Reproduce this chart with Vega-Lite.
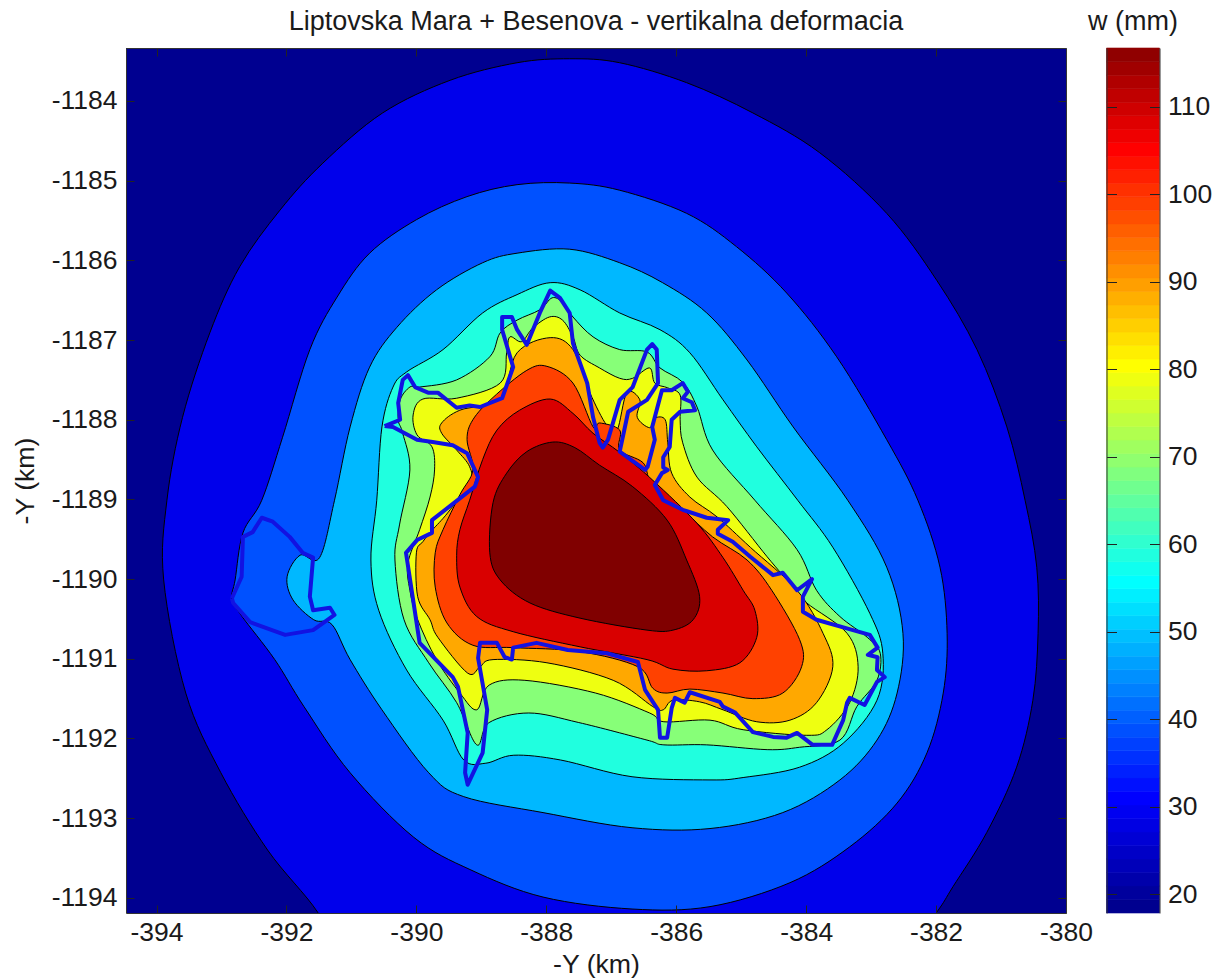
{"$schema":"https://vega.github.io/schema/vega-lite/v6.json","background":"white","padding":{"left":12,"top":7,"right":2,"bottom":2},"config":{"font":"Liberation Sans","view":{"stroke":null},"title":{"font":"Liberation Sans","fontSize":27,"fontWeight":"normal","color":"#1a1a1a"}},"spacing":-5.5,"datasets":{"contours":[
{"level":18,"x":-395,"y":-1183},{"level":18,"x":-379,"y":-1183},{"level":18,"x":-379,"y":-1195},{"level":18,"x":-395,"y":-1195},
{"level":28,"x":-387.64,"y":-1183.47},{"level":28,"x":-386.87,"y":-1183.52},{"level":28,"x":-385.84,"y":-1183.77},{"level":28,"x":-384.82,"y":-1184.15},{"level":28,"x":-383.79,"y":-1184.65},{"level":28,"x":-382.76,"y":-1185.41},{"level":28,"x":-381.99,"y":-1186.25},{"level":28,"x":-381.37,"y":-1187.12},{"level":28,"x":-380.91,"y":-1188.09},{"level":28,"x":-380.63,"y":-1189.01},{"level":28,"x":-380.45,"y":-1189.85},{"level":28,"x":-380.43,"y":-1190.68},{"level":28,"x":-380.51,"y":-1191.52},{"level":28,"x":-380.76,"y":-1192.36},{"level":28,"x":-381.22,"y":-1193.18},{"level":28,"x":-381.74,"y":-1193.86},{"level":28,"x":-381.99,"y":-1194.18},{"level":28,"x":-382.56,"y":-1194.78},{"level":28,"x":-387.18,"y":-1195.4},{"level":28,"x":-391.18,"y":-1194.78},{"level":28,"x":-391.52,"y":-1194.18},{"level":28,"x":-392.29,"y":-1193.4},{"level":28,"x":-393.01,"y":-1192.43},{"level":28,"x":-393.55,"y":-1191.43},{"level":28,"x":-393.89,"y":-1190.01},{"level":28,"x":-393.84,"y":-1189.01},{"level":28,"x":-393.6,"y":-1187.97},{"level":28,"x":-393.18,"y":-1186.91},{"level":28,"x":-392.72,"y":-1186.08},{"level":28,"x":-392.1,"y":-1185.37},{"level":28,"x":-391.44,"y":-1184.78},{"level":28,"x":-390.52,"y":-1184.15},{"level":28,"x":-389.48,"y":-1183.74},{"level":28,"x":-388.45,"y":-1183.52},
{"level":38,"x":-387.64,"y":-1185.03},{"level":38,"x":-386.87,"y":-1185.12},{"level":38,"x":-385.84,"y":-1185.41},{"level":38,"x":-385.07,"y":-1185.83},{"level":38,"x":-384.3,"y":-1186.41},{"level":38,"x":-383.53,"y":-1187.21},{"level":38,"x":-382.76,"y":-1188.25},{"level":38,"x":-382.28,"y":-1189.01},{"level":38,"x":-381.94,"y":-1189.85},{"level":38,"x":-381.83,"y":-1190.68},{"level":38,"x":-381.89,"y":-1191.43},{"level":38,"x":-382.14,"y":-1192.18},{"level":38,"x":-382.6,"y":-1192.81},{"level":38,"x":-383.33,"y":-1193.36},{"level":38,"x":-384.25,"y":-1193.81},{"level":38,"x":-385.48,"y":-1194.11},{"level":38,"x":-386.68,"y":-1194.14},{"level":38,"x":-388.05,"y":-1193.99},{"level":38,"x":-389.16,"y":-1193.65},{"level":38,"x":-390.04,"y":-1193.24},{"level":38,"x":-391.02,"y":-1192.43},{"level":38,"x":-391.73,"y":-1191.6},{"level":38,"x":-392.18,"y":-1191.01},{"level":38,"x":-392.7,"y":-1190.45},{"level":38,"x":-392.84,"y":-1190.24},{"level":38,"x":-392.79,"y":-1190.01},{"level":38,"x":-392.67,"y":-1189.42},{"level":38,"x":-392.38,"y":-1189.01},{"level":38,"x":-392.06,"y":-1188.22},{"level":38,"x":-391.64,"y":-1187.12},{"level":38,"x":-391.22,"y":-1186.46},{"level":38,"x":-390.72,"y":-1185.91},{"level":38,"x":-390.0,"y":-1185.49},{"level":38,"x":-389.22,"y":-1185.2},{"level":38,"x":-388.45,"y":-1185.05},
{"level":48,"x":-387.64,"y":-1185.86},{"level":48,"x":-386.87,"y":-1186.03},{"level":48,"x":-386.21,"y":-1186.28},{"level":48,"x":-385.53,"y":-1186.66},{"level":48,"x":-384.91,"y":-1187.25},{"level":48,"x":-384.2,"y":-1188.09},{"level":48,"x":-383.36,"y":-1189.01},{"level":48,"x":-382.76,"y":-1189.85},{"level":48,"x":-382.51,"y":-1190.68},{"level":48,"x":-382.6,"y":-1191.43},{"level":48,"x":-382.91,"y":-1192.02},{"level":48,"x":-383.48,"y":-1192.52},{"level":48,"x":-384.36,"y":-1192.93},{"level":48,"x":-385.48,"y":-1193.13},{"level":48,"x":-386.68,"y":-1193.12},{"level":48,"x":-388.05,"y":-1192.93},{"level":48,"x":-389.27,"y":-1192.73},{"level":48,"x":-389.81,"y":-1192.43},{"level":48,"x":-390.53,"y":-1191.64},{"level":48,"x":-391.02,"y":-1191.01},{"level":48,"x":-391.3,"y":-1190.57},{"level":48,"x":-391.58,"y":-1190.51},{"level":48,"x":-391.9,"y":-1190.26},{"level":48,"x":-391.99,"y":-1189.97},{"level":48,"x":-391.79,"y":-1189.7},{"level":48,"x":-391.49,"y":-1189.73},{"level":48,"x":-391.26,"y":-1189.01},{"level":48,"x":-391.02,"y":-1188.09},{"level":48,"x":-390.72,"y":-1187.34},{"level":48,"x":-390.3,"y":-1186.84},{"level":48,"x":-389.69,"y":-1186.37},{"level":48,"x":-388.98,"y":-1186.03},{"level":48,"x":-388.45,"y":-1185.91},
{"level":58,"x":-387.94,"y":-1186.28},{"level":58,"x":-388.45,"y":-1186.43},{"level":58,"x":-388.98,"y":-1186.66},{"level":58,"x":-389.59,"y":-1187.12},{"level":58,"x":-390.15,"y":-1187.4},{"level":58,"x":-390.36,"y":-1187.59},{"level":58,"x":-390.53,"y":-1188.09},{"level":58,"x":-390.61,"y":-1189.01},{"level":58,"x":-390.7,"y":-1189.76},{"level":58,"x":-390.58,"y":-1190.39},{"level":58,"x":-390.15,"y":-1191.14},{"level":58,"x":-389.59,"y":-1191.77},{"level":58,"x":-389.27,"y":-1192.27},{"level":58,"x":-388.93,"y":-1192.31},{"level":58,"x":-388.5,"y":-1192.21},{"level":58,"x":-387.78,"y":-1192.27},{"level":58,"x":-386.68,"y":-1192.48},{"level":58,"x":-385.48,"y":-1192.52},{"level":58,"x":-384.97,"y":-1192.49},{"level":58,"x":-384.1,"y":-1192.36},{"level":58,"x":-383.43,"y":-1192.06},{"level":58,"x":-382.91,"y":-1191.52},{"level":58,"x":-382.82,"y":-1190.93},{"level":58,"x":-383.02,"y":-1190.43},{"level":58,"x":-383.59,"y":-1189.6},{"level":58,"x":-384.13,"y":-1189.01},{"level":58,"x":-384.76,"y":-1188.34},{"level":58,"x":-385.28,"y":-1187.75},{"level":58,"x":-385.79,"y":-1187.16},{"level":58,"x":-386.25,"y":-1186.87},{"level":58,"x":-386.87,"y":-1186.66},{"level":58,"x":-387.48,"y":-1186.37},
{"level":68,"x":-390.1,"y":-1187.59},{"level":68,"x":-389.95,"y":-1187.59},{"level":68,"x":-389.38,"y":-1187.5},{"level":68,"x":-388.87,"y":-1187.21},{"level":68,"x":-388.71,"y":-1186.91},{"level":68,"x":-388.45,"y":-1186.75},{"level":68,"x":-388.1,"y":-1186.62},{"level":68,"x":-387.91,"y":-1186.47},{"level":68,"x":-387.75,"y":-1186.53},{"level":68,"x":-387.59,"y":-1186.71},{"level":68,"x":-387.28,"y":-1186.96},{"level":68,"x":-386.87,"y":-1187.12},{"level":68,"x":-386.45,"y":-1187.15},{"level":68,"x":-386.25,"y":-1187.35},{"level":68,"x":-385.9,"y":-1187.53},{"level":68,"x":-385.68,"y":-1187.84},{"level":68,"x":-385.44,"y":-1188.38},{"level":68,"x":-384.79,"y":-1189.01},{"level":68,"x":-384.14,"y":-1189.63},{"level":68,"x":-383.84,"y":-1190.14},{"level":68,"x":-383.48,"y":-1190.47},{"level":68,"x":-383.06,"y":-1190.73},{"level":68,"x":-382.86,"y":-1190.93},{"level":68,"x":-382.91,"y":-1191.27},{"level":68,"x":-383.22,"y":-1191.6},{"level":68,"x":-383.48,"y":-1192.02},{"level":68,"x":-384.1,"y":-1192.11},{"level":68,"x":-384.6,"y":-1192.14},{"level":68,"x":-385.53,"y":-1192.08},{"level":68,"x":-386.19,"y":-1192.08},{"level":68,"x":-386.45,"y":-1192.02},{"level":68,"x":-387.5,"y":-1191.8},{"level":68,"x":-388.27,"y":-1191.68},{"level":68,"x":-388.88,"y":-1191.8},{"level":68,"x":-389.07,"y":-1192.08},{"level":68,"x":-389.38,"y":-1191.55},{"level":68,"x":-389.81,"y":-1191.05},{"level":68,"x":-390.19,"y":-1190.51},{"level":68,"x":-390.33,"y":-1189.76},{"level":68,"x":-390.26,"y":-1189.32},{"level":68,"x":-390.1,"y":-1188.63},{"level":68,"x":-390.21,"y":-1188.17},{"level":68,"x":-390.28,"y":-1188.0},{"level":68,"x":-390.25,"y":-1187.75},
{"level":78,"x":-389.9,"y":-1187.74},{"level":78,"x":-390.05,"y":-1187.94},{"level":78,"x":-389.99,"y":-1188.19},{"level":78,"x":-389.76,"y":-1188.34},{"level":78,"x":-389.72,"y":-1188.63},{"level":78,"x":-389.79,"y":-1188.97},{"level":78,"x":-389.95,"y":-1189.38},{"level":78,"x":-390.13,"y":-1189.8},{"level":78,"x":-390.1,"y":-1190.14},{"level":78,"x":-389.98,"y":-1190.51},{"level":78,"x":-389.69,"y":-1191.01},{"level":78,"x":-389.33,"y":-1191.43},{"level":78,"x":-389.07,"y":-1191.64},{"level":78,"x":-388.88,"y":-1191.33},{"level":78,"x":-388.33,"y":-1191.27},{"level":78,"x":-387.24,"y":-1191.43},{"level":78,"x":-386.41,"y":-1191.68},{"level":78,"x":-386.19,"y":-1191.79},{"level":78,"x":-385.48,"y":-1191.77},{"level":78,"x":-384.97,"y":-1191.89},{"level":78,"x":-383.99,"y":-1191.96},{"level":78,"x":-383.68,"y":-1191.89},{"level":78,"x":-383.33,"y":-1191.55},{"level":78,"x":-383.2,"y":-1191.1},{"level":78,"x":-383.37,"y":-1190.68},{"level":78,"x":-383.99,"y":-1190.3},{"level":78,"x":-384.2,"y":-1190.1},{"level":78,"x":-384.6,"y":-1189.72},{"level":78,"x":-385.22,"y":-1189.09},{"level":78,"x":-385.68,"y":-1188.72},{"level":78,"x":-385.9,"y":-1188.29},{"level":78,"x":-385.94,"y":-1188.0},{"level":78,"x":-385.94,"y":-1187.69},{"level":78,"x":-386.13,"y":-1187.6},{"level":78,"x":-386.33,"y":-1187.54},{"level":78,"x":-386.41,"y":-1187.35},{"level":78,"x":-386.67,"y":-1187.48},{"level":78,"x":-386.87,"y":-1187.48},{"level":78,"x":-387.18,"y":-1187.35},{"level":78,"x":-387.48,"y":-1187.19},{"level":78,"x":-387.59,"y":-1186.96},{"level":78,"x":-387.75,"y":-1186.75},{"level":78,"x":-387.95,"y":-1186.71},{"level":78,"x":-388.21,"y":-1186.85},{"level":78,"x":-388.38,"y":-1187.02},{"level":78,"x":-388.56,"y":-1186.96},{"level":78,"x":-388.61,"y":-1187.16},{"level":78,"x":-388.71,"y":-1187.54},{"level":78,"x":-389.38,"y":-1187.73},
{"level":88,"x":-387.94,"y":-1186.97},{"level":88,"x":-388.45,"y":-1187.16},{"level":88,"x":-388.71,"y":-1187.73},{"level":88,"x":-389.33,"y":-1187.88},{"level":88,"x":-389.61,"y":-1188.04},{"level":88,"x":-389.61,"y":-1188.17},{"level":88,"x":-389.38,"y":-1188.38},{"level":88,"x":-389.18,"y":-1188.59},{"level":88,"x":-389.18,"y":-1188.79},{"level":88,"x":-389.52,"y":-1189.17},{"level":88,"x":-389.75,"y":-1189.38},{"level":88,"x":-389.9,"y":-1189.53},{"level":88,"x":-390.0,"y":-1189.67},{"level":88,"x":-389.98,"y":-1190.22},{"level":88,"x":-389.79,"y":-1190.51},{"level":88,"x":-389.67,"y":-1190.73},{"level":88,"x":-389.21,"y":-1191.18},{"level":88,"x":-389.02,"y":-1191.1},{"level":88,"x":-388.82,"y":-1191.01},{"level":88,"x":-387.99,"y":-1191.05},{"level":88,"x":-386.97,"y":-1191.27},{"level":88,"x":-386.36,"y":-1191.6},{"level":88,"x":-386.2,"y":-1191.64},{"level":88,"x":-386.05,"y":-1191.52},{"level":88,"x":-385.64,"y":-1191.54},{"level":88,"x":-385.28,"y":-1191.64},{"level":88,"x":-384.76,"y":-1191.79},{"level":88,"x":-384.25,"y":-1191.77},{"level":88,"x":-383.84,"y":-1191.55},{"level":88,"x":-383.59,"y":-1191.1},{"level":88,"x":-383.74,"y":-1190.68},{"level":88,"x":-384.14,"y":-1190.14},{"level":88,"x":-384.86,"y":-1189.6},{"level":88,"x":-385.37,"y":-1189.22},{"level":88,"x":-385.79,"y":-1188.97},{"level":88,"x":-386.07,"y":-1188.67},{"level":88,"x":-386.13,"y":-1188.29},{"level":88,"x":-386.17,"y":-1188.0},{"level":88,"x":-386.33,"y":-1187.98},{"level":88,"x":-386.41,"y":-1188.1},{"level":88,"x":-386.6,"y":-1187.97},{"level":88,"x":-386.56,"y":-1187.75},{"level":88,"x":-386.76,"y":-1187.66},{"level":88,"x":-386.91,"y":-1188.13},{"level":88,"x":-387.07,"y":-1188.07},{"level":88,"x":-387.33,"y":-1187.66},{"level":88,"x":-387.59,"y":-1187.12},
{"level":98,"x":-387.99,"y":-1187.33},{"level":98,"x":-388.3,"y":-1187.38},{"level":98,"x":-388.82,"y":-1187.72},{"level":98,"x":-389.13,"y":-1188.0},{"level":98,"x":-389.22,"y":-1188.25},{"level":98,"x":-389.13,"y":-1188.63},{"level":98,"x":-389.33,"y":-1188.94},{"level":98,"x":-389.59,"y":-1189.38},{"level":98,"x":-389.71,"y":-1189.67},{"level":98,"x":-389.71,"y":-1190.1},{"level":98,"x":-389.53,"y":-1190.55},{"level":98,"x":-389.13,"y":-1190.83},{"level":98,"x":-388.51,"y":-1190.86},{"level":98,"x":-387.48,"y":-1190.91},{"level":98,"x":-386.59,"y":-1191.1},{"level":98,"x":-386.36,"y":-1191.37},{"level":98,"x":-386.14,"y":-1191.43},{"level":98,"x":-385.79,"y":-1191.38},{"level":98,"x":-385.28,"y":-1191.43},{"level":98,"x":-384.82,"y":-1191.5},{"level":98,"x":-384.36,"y":-1191.43},{"level":98,"x":-384.07,"y":-1191.1},{"level":98,"x":-384.1,"y":-1190.76},{"level":98,"x":-384.53,"y":-1190.14},{"level":98,"x":-384.91,"y":-1189.76},{"level":98,"x":-385.44,"y":-1189.47},{"level":98,"x":-385.94,"y":-1189.1},{"level":98,"x":-386.38,"y":-1188.79},{"level":98,"x":-386.51,"y":-1188.54},{"level":98,"x":-386.87,"y":-1188.38},{"level":98,"x":-386.87,"y":-1188.13},{"level":98,"x":-387.18,"y":-1188.04},{"level":98,"x":-387.28,"y":-1188.09},{"level":98,"x":-387.59,"y":-1187.54},
{"level":108,"x":-387.94,"y":-1187.74},{"level":108,"x":-388.41,"y":-1187.88},{"level":108,"x":-388.76,"y":-1188.13},{"level":108,"x":-388.98,"y":-1188.5},{"level":108,"x":-389.18,"y":-1189.01},{"level":108,"x":-389.33,"y":-1189.38},{"level":108,"x":-389.38,"y":-1189.7},{"level":108,"x":-389.33,"y":-1190.1},{"level":108,"x":-389.07,"y":-1190.47},{"level":108,"x":-388.51,"y":-1190.66},{"level":108,"x":-387.48,"y":-1190.85},{"level":108,"x":-386.45,"y":-1191.01},{"level":108,"x":-386.05,"y":-1191.13},{"level":108,"x":-385.53,"y":-1191.15},{"level":108,"x":-385.02,"y":-1191.05},{"level":108,"x":-384.76,"y":-1190.73},{"level":108,"x":-384.79,"y":-1190.39},{"level":108,"x":-384.97,"y":-1190.14},{"level":108,"x":-385.28,"y":-1189.73},{"level":108,"x":-385.68,"y":-1189.3},{"level":108,"x":-386.36,"y":-1188.76},{"level":108,"x":-386.87,"y":-1188.41},{"level":108,"x":-387.28,"y":-1188.17},{"level":108,"x":-387.59,"y":-1187.92},
{"level":116.7,"x":-387.9,"y":-1188.28},{"level":116.7,"x":-388.3,"y":-1188.4},{"level":116.7,"x":-388.61,"y":-1188.67},{"level":116.7,"x":-388.82,"y":-1189.04},{"level":116.7,"x":-388.87,"y":-1189.67},{"level":116.7,"x":-388.71,"y":-1190.01},{"level":116.7,"x":-388.25,"y":-1190.3},{"level":116.7,"x":-387.48,"y":-1190.49},{"level":116.7,"x":-386.45,"y":-1190.64},{"level":116.7,"x":-386.05,"y":-1190.64},{"level":116.7,"x":-385.74,"y":-1190.51},{"level":116.7,"x":-385.64,"y":-1190.22},{"level":116.7,"x":-385.84,"y":-1189.76},{"level":116.7,"x":-386.14,"y":-1189.26},{"level":116.7,"x":-386.67,"y":-1188.84},{"level":116.7,"x":-387.18,"y":-1188.57},{"level":116.7,"x":-387.56,"y":-1188.35}
],"outline":[
{"part":"a","x":-390.49,"y":-1188.08},{"part":"a","x":-390.25,"y":-1188.0},{"part":"a","x":-390.28,"y":-1187.79},{"part":"a","x":-390.21,"y":-1187.5},{"part":"a","x":-390.13,"y":-1187.44},{"part":"a","x":-390.02,"y":-1187.59},{"part":"a","x":-389.82,"y":-1187.66},{"part":"a","x":-389.67,"y":-1187.66},{"part":"a","x":-389.38,"y":-1187.85},{"part":"a","x":-389.18,"y":-1187.82},{"part":"a","x":-389.02,"y":-1187.84},{"part":"a","x":-388.68,"y":-1187.73},{"part":"a","x":-388.51,"y":-1187.34},{"part":"a","x":-388.68,"y":-1186.87},{"part":"a","x":-388.68,"y":-1186.71},{"part":"a","x":-388.53,"y":-1186.71},{"part":"a","x":-388.45,"y":-1186.87},{"part":"a","x":-388.3,"y":-1187.06},{"part":"a","x":-388.1,"y":-1186.66},{"part":"a","x":-387.94,"y":-1186.38},{"part":"a","x":-387.79,"y":-1186.47},{"part":"a","x":-387.64,"y":-1186.66},{"part":"a","x":-387.59,"y":-1187.04},{"part":"a","x":-387.37,"y":-1187.54},{"part":"a","x":-387.28,"y":-1187.97},{"part":"a","x":-387.18,"y":-1188.29},{"part":"a","x":-387.13,"y":-1188.35},{"part":"a","x":-387.05,"y":-1188.25},{"part":"a","x":-386.87,"y":-1187.75},{"part":"a","x":-386.67,"y":-1187.59},{"part":"a","x":-386.45,"y":-1187.12},{"part":"a","x":-386.37,"y":-1187.05},{"part":"a","x":-386.3,"y":-1187.12},{"part":"a","x":-386.28,"y":-1187.54},{"part":"a","x":-386.45,"y":-1187.75},{"part":"a","x":-386.74,"y":-1187.9},{"part":"a","x":-386.87,"y":-1188.4},{"part":"a","x":-386.48,"y":-1188.63},{"part":"a","x":-386.44,"y":-1188.59},{"part":"a","x":-386.33,"y":-1188.25},{"part":"a","x":-386.37,"y":-1188.09},{"part":"a","x":-386.22,"y":-1187.63},{"part":"a","x":-386.07,"y":-1187.63},{"part":"a","x":-385.9,"y":-1187.54},{"part":"a","x":-385.82,"y":-1187.65},{"part":"a","x":-385.9,"y":-1187.73},{"part":"a","x":-385.76,"y":-1187.78},{"part":"a","x":-385.71,"y":-1187.88},{"part":"a","x":-385.94,"y":-1187.9},{"part":"a","x":-386.07,"y":-1188.0},{"part":"a","x":-386.1,"y":-1188.34},{"part":"a","x":-386.2,"y":-1188.47},{"part":"a","x":-386.2,"y":-1188.6},{"part":"a","x":-386.13,"y":-1188.63},{"part":"a","x":-386.22,"y":-1188.67},{"part":"a","x":-386.33,"y":-1188.82},{"part":"a","x":-386.2,"y":-1189.01},{"part":"a","x":-385.9,"y":-1189.13},{"part":"a","x":-385.53,"y":-1189.23},{"part":"a","x":-385.2,"y":-1189.26},{"part":"a","x":-385.36,"y":-1189.38},{"part":"a","x":-385.36,"y":-1189.43},{"part":"a","x":-385.13,"y":-1189.53},{"part":"a","x":-384.86,"y":-1189.72},{"part":"a","x":-384.51,"y":-1189.95},{"part":"a","x":-384.36,"y":-1189.92},{"part":"a","x":-384.14,"y":-1190.14},{"part":"a","x":-383.91,"y":-1190.0},{"part":"a","x":-384.05,"y":-1190.22},{"part":"a","x":-384.05,"y":-1190.41},{"part":"a","x":-383.84,"y":-1190.51},{"part":"a","x":-383.28,"y":-1190.64},{"part":"a","x":-383.02,"y":-1190.7},{"part":"a","x":-382.9,"y":-1190.86},{"part":"a","x":-383.05,"y":-1190.95},{"part":"a","x":-382.9,"y":-1190.98},{"part":"a","x":-382.91,"y":-1191.14},{"part":"a","x":-382.79,"y":-1191.23},{"part":"a","x":-382.91,"y":-1191.29},{"part":"a","x":-383.1,"y":-1191.58},{"part":"a","x":-383.33,"y":-1191.49},{"part":"a","x":-383.37,"y":-1191.55},{"part":"a","x":-383.43,"y":-1191.77},{"part":"a","x":-383.6,"y":-1192.08},{"part":"a","x":-383.9,"y":-1192.08},{"part":"a","x":-384.14,"y":-1191.93},{"part":"a","x":-384.3,"y":-1191.99},{"part":"a","x":-384.51,"y":-1191.98},{"part":"a","x":-384.82,"y":-1191.92},{"part":"a","x":-385.1,"y":-1191.67},{"part":"a","x":-385.28,"y":-1191.6},{"part":"a","x":-385.33,"y":-1191.54},{"part":"a","x":-385.79,"y":-1191.42},{"part":"a","x":-385.87,"y":-1191.55},{"part":"a","x":-386.02,"y":-1191.49},{"part":"a","x":-386.07,"y":-1191.62},{"part":"a","x":-386.14,"y":-1191.99},{"part":"a","x":-386.25,"y":-1191.99},{"part":"a","x":-386.28,"y":-1191.64},{"part":"a","x":-386.48,"y":-1191.39},{"part":"a","x":-386.59,"y":-1191.04},{"part":"a","x":-387.07,"y":-1190.93},{"part":"a","x":-387.67,"y":-1190.89},{"part":"a","x":-388.15,"y":-1190.8},{"part":"a","x":-388.51,"y":-1190.86},{"part":"a","x":-388.53,"y":-1191.01},{"part":"a","x":-388.64,"y":-1190.98},{"part":"a","x":-388.76,"y":-1190.8},{"part":"a","x":-389.02,"y":-1190.8},{"part":"a","x":-389.05,"y":-1190.99},{"part":"a","x":-388.91,"y":-1191.64},{"part":"a","x":-388.98,"y":-1192.18},{"part":"a","x":-389.21,"y":-1192.58},{"part":"a","x":-389.25,"y":-1192.43},{"part":"a","x":-389.21,"y":-1191.93},{"part":"a","x":-389.36,"y":-1191.35},{"part":"a","x":-389.44,"y":-1191.23},{"part":"a","x":-389.95,"y":-1190.8},{"part":"a","x":-390.16,"y":-1189.67},{"part":"a","x":-389.99,"y":-1189.51},{"part":"a","x":-389.76,"y":-1189.42},{"part":"a","x":-389.76,"y":-1189.26},{"part":"a","x":-389.1,"y":-1188.84},{"part":"a","x":-389.05,"y":-1188.72},{"part":"a","x":-389.22,"y":-1188.42},{"part":"a","x":-389.44,"y":-1188.32},{"part":"a","x":-389.75,"y":-1188.28},{"part":"a","x":-389.99,"y":-1188.25},{"part":"a","x":-390.36,"y":-1188.09},{"part":"a","x":-390.49,"y":-1188.08},
{"part":"b","x":-392.84,"y":-1190.24},{"part":"b","x":-392.69,"y":-1189.97},{"part":"b","x":-392.67,"y":-1189.47},{"part":"b","x":-392.52,"y":-1189.41},{"part":"b","x":-392.38,"y":-1189.23},{"part":"b","x":-392.21,"y":-1189.28},{"part":"b","x":-391.95,"y":-1189.47},{"part":"b","x":-391.75,"y":-1189.67},{"part":"b","x":-391.59,"y":-1189.73},{"part":"b","x":-391.64,"y":-1190.22},{"part":"b","x":-391.59,"y":-1190.39},{"part":"b","x":-391.33,"y":-1190.36},{"part":"b","x":-391.26,"y":-1190.45},{"part":"b","x":-391.59,"y":-1190.64},{"part":"b","x":-392.02,"y":-1190.7},{"part":"b","x":-392.56,"y":-1190.54},{"part":"b","x":-392.82,"y":-1190.3},{"part":"b","x":-392.84,"y":-1190.24}
],"bands":[{"w":17.86,"w2":19.4},{"w":19.4,"w2":20.95},{"w":20.95,"w2":22.49},{"w":22.49,"w2":24.04},{"w":24.04,"w2":25.58},{"w":25.58,"w2":27.12},{"w":27.12,"w2":28.67},{"w":28.67,"w2":30.21},{"w":30.21,"w2":31.76},{"w":31.76,"w2":33.3},{"w":33.3,"w2":34.84},{"w":34.84,"w2":36.39},{"w":36.39,"w2":37.93},{"w":37.93,"w2":39.48},{"w":39.48,"w2":41.02},{"w":41.02,"w2":42.56},{"w":42.56,"w2":44.11},{"w":44.11,"w2":45.65},{"w":45.65,"w2":47.2},{"w":47.2,"w2":48.74},{"w":48.74,"w2":50.28},{"w":50.28,"w2":51.83},{"w":51.83,"w2":53.37},{"w":53.37,"w2":54.92},{"w":54.92,"w2":56.46},{"w":56.46,"w2":58},{"w":58,"w2":59.55},{"w":59.55,"w2":61.09},{"w":61.09,"w2":62.64},{"w":62.64,"w2":64.18},{"w":64.18,"w2":65.72},{"w":65.72,"w2":67.27},{"w":67.27,"w2":68.81},{"w":68.81,"w2":70.36},{"w":70.36,"w2":71.9},{"w":71.9,"w2":73.44},{"w":73.44,"w2":74.99},{"w":74.99,"w2":76.53},{"w":76.53,"w2":78.08},{"w":78.08,"w2":79.62},{"w":79.62,"w2":81.16},{"w":81.16,"w2":82.71},{"w":82.71,"w2":84.25},{"w":84.25,"w2":85.8},{"w":85.8,"w2":87.34},{"w":87.34,"w2":88.88},{"w":88.88,"w2":90.43},{"w":90.43,"w2":91.97},{"w":91.97,"w2":93.52},{"w":93.52,"w2":95.06},{"w":95.06,"w2":96.6},{"w":96.6,"w2":98.15},{"w":98.15,"w2":99.69},{"w":99.69,"w2":101.24},{"w":101.24,"w2":102.78},{"w":102.78,"w2":104.32},{"w":104.32,"w2":105.87},{"w":105.87,"w2":107.41},{"w":107.41,"w2":108.96},{"w":108.96,"w2":110.5},{"w":110.5,"w2":112.04},{"w":112.04,"w2":113.59},{"w":113.59,"w2":115.13},{"w":115.13,"w2":116.7}]},
"hconcat":[
{"width":940,"height":865,"title":{"text":"Liptovska Mara + Besenova - vertikalna deformacia","anchor":"middle","fontSize":27,"offset":12},
"resolve":{"axis":{"x":"independent","y":"independent"}},
"layer":[
{"data":{"name":"contours"},"mark":{"type":"line","interpolate":"cardinal-closed","stroke":"#000000","strokeWidth":1,"clip":true},
"encoding":{"x":{"field":"x","type":"quantitative","scale":{"domain":[-394.47,-380],"nice":false,"zero":false},"axis":{"title":"-Y (km)","values":[-394,-392,-390,-388,-386,-384,-382,-380],"labelExpr":"'-' + abs(datum.value)","labelFontSize":26.5,"titleFontSize":26.7,"titleFontWeight":"normal","titleColor":"#1a1a1a","labelColor":"#1a1a1a","grid":false,"tickSize":-8,"tickColor":"#222222","domainColor":"#333333","labelPadding":14,"titlePadding":6,"zindex":1,"labelFlush":false,"labelOverlap":false}},
"y":{"field":"y","type":"quantitative","scale":{"domain":[-1194.19,-1183.335],"nice":false,"zero":false},"axis":{"title":"-Y (km)","values":[-1194,-1193,-1192,-1191,-1190,-1189,-1188,-1187,-1186,-1185,-1184],"labelExpr":"'-' + abs(datum.value)","labelFontSize":26.5,"titleFontSize":26.7,"titleFontWeight":"normal","titleColor":"#1a1a1a","labelColor":"#1a1a1a","grid":false,"tickSize":-8,"tickColor":"#222222","domainColor":"#333333","labelPadding":17,"titlePadding":12,"zindex":1,"labelOverlap":false}},
"fill":{"field":"level","type":"quantitative","legend":null,"scale":{"type":"linear","interpolate":"rgb","domain":[17.86,30.2,54.9,79.6,104.3,116.7],"range":["#00008f","#0000ff","#00ffff","#ffff00","#ff0000","#800000"]}},
"detail":{"field":"level","type":"nominal"},"order":{"value":null}}},
{"data":{"name":"outline"},"mark":{"type":"line","stroke":"#1212e2","strokeWidth":4,"strokeJoin":"round","clip":true},
"encoding":{"x":{"field":"x","type":"quantitative","axis":{"orient":"top","title":null,"labels":false,"values":[-394,-392,-390,-388,-386,-384,-382,-380],"grid":false,"tickSize":-8,"tickColor":"#222222","domainColor":"#333333","zindex":1}},
"y":{"field":"y","type":"quantitative","axis":{"orient":"right","title":null,"labels":false,"values":[-1194,-1193,-1192,-1191,-1190,-1189,-1188,-1187,-1186,-1185,-1184],"grid":false,"tickSize":-8,"tickColor":"#222222","domainColor":"#333333","zindex":1}},
"detail":{"field":"part","type":"nominal"},"order":{"value":null}}}
]},
{"width":53,"height":865,"title":{"text":"w (mm)","anchor":"middle","fontSize":27,"offset":12},
"resolve":{"axis":{"y":"independent"}},
"layer":[
{"data":{"name":"bands"},"mark":{"type":"rect","strokeWidth":0.6},"encoding":{"x":{"datum":0,"type":"quantitative","scale":{"domain":[0,1]},"axis":null},"x2":{"datum":1},"y":{"field":"w","type":"quantitative","scale":{"domain":[17.86,116.7],"nice":false,"zero":false},"axis":{"orient":"right","title":null,"values":[20,30,40,50,60,70,80,90,100,110],"format":"d","labelFontSize":26.5,"labelColor":"#1a1a1a","grid":false,"tickSize":-10,"tickColor":"#222222","domainColor":"#333333","labelPadding":18,"zindex":1,"labelOverlap":false}},"y2":{"field":"w2"},
"fill":{"field":"w","type":"quantitative","legend":null,"scale":{"type":"linear","interpolate":"rgb","domain":[17.86,30.2,54.9,79.6,104.3,116.7],"range":["#00008f","#0000ff","#00ffff","#ffff00","#ff0000","#800000"]}},
"stroke":{"field":"w","type":"quantitative","legend":null,"scale":{"type":"linear","interpolate":"rgb","domain":[17.86,30.2,54.9,79.6,104.3,116.7],"range":["#00008f","#0000ff","#00ffff","#ffff00","#ff0000","#800000"]}}}},
{"data":{"name":"bands"},"mark":{"type":"rect","fillOpacity":0},"encoding":{"x":{"datum":0,"type":"quantitative","axis":null},"x2":{"datum":1},"y":{"field":"w","type":"quantitative","axis":{"orient":"left","title":null,"labels":false,"values":[20,30,40,50,60,70,80,90,100,110],"grid":false,"tickSize":-10,"tickColor":"#222222","domainColor":"#333333","zindex":1}},"y2":{"field":"w2"}}}
]}
]}
